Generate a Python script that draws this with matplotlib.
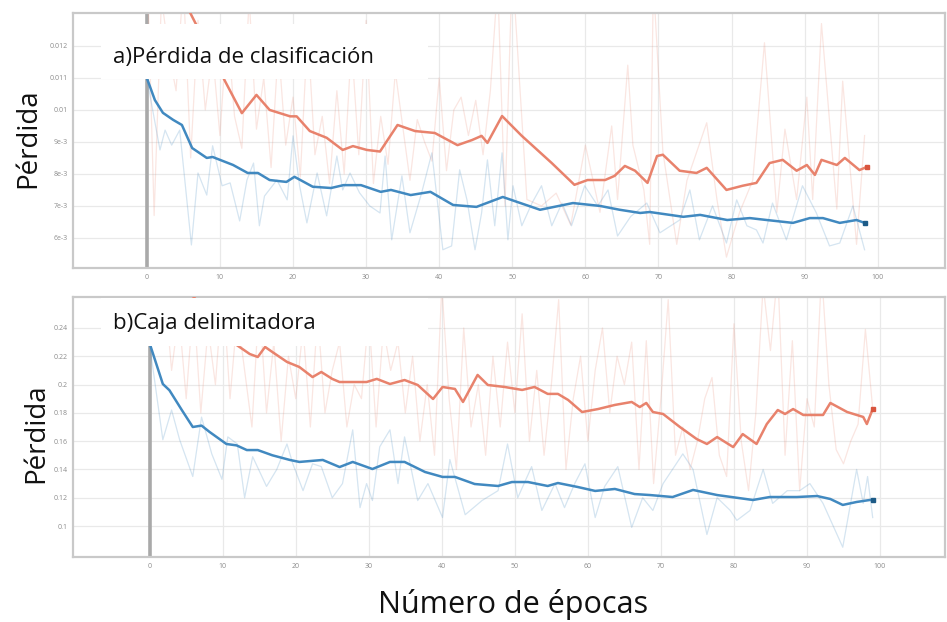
import matplotlib
matplotlib.use("Agg")
import matplotlib.pyplot as plt
from matplotlib.patches import Rectangle

plt.rcParams['font.family'] = ['Open Sans', 'DejaVu Sans']

# ---------------- data ----------------
x_ticks = [0, 10, 20, 30, 40, 50, 60, 70, 80, 90, 100]

# panel a) classification loss
cls_yticks = [0.006, 0.007, 0.008, 0.009, 0.010, 0.011, 0.012]
cls_ylabels = ["6e-3", "7e-3", "8e-3", "9e-3", "0.01", "0.011", "0.012"]

cls_train_ep = [0, 1.1, 2.2, 3.6, 4.8, 6.2, 8.2, 9, 11.8, 13.8, 15.2, 16.8, 19.1, 20.2, 22.7,
                25.2, 26.9, 29.3, 32, 33.4, 36.1, 38.8, 41.9, 45.1, 48.7, 50.6, 53.8, 58.3,
                62, 64.7, 67.5, 68.8, 73.4, 75.7, 79.4, 82.5, 84.8, 88.4, 90.7, 92.5, 94.8,
                97.1, 98.2]
cls_train = [0.0110, 0.01031, 0.00991, 0.00969, 0.00953, 0.00881, 0.0085, 0.00853, 0.00828,
             0.00803, 0.00803, 0.00781, 0.00775, 0.00791, 0.0076, 0.00756, 0.00765, 0.00765,
             0.00744, 0.0075, 0.00734, 0.00744, 0.00703, 0.00697, 0.00728, 0.00713, 0.00688,
             0.00709, 0.00700, 0.00688, 0.00678, 0.00681, 0.00666, 0.00672, 0.00656, 0.00662,
             0.00656, 0.00647, 0.00662, 0.00662, 0.00647, 0.00656, 0.00647]

cls_val_ep = [0, 3, 5.9, 10.7, 13, 15, 16.8, 19.6, 20.5, 22.3, 24.6, 26.8, 28.2, 30.1, 31.9,
              34.3, 36.7, 39.4, 42.5, 44.5, 45.8, 46.6, 48.6, 51.3, 55.4, 58.5, 60.3, 62.7,
              64, 65.4, 66.8, 68.5, 69.8, 70.6, 72.9, 75.2, 76.6, 79.3, 81.5, 83.4, 85.2,
              87, 88.9, 90.3, 91.4, 92.3, 94.4, 95.5, 97.5, 98.5]
cls_val = [0.0155, 0.0142, 0.01305, 0.0109, 0.0099, 0.01047, 0.0100, 0.0098, 0.0098, 0.00934,
           0.00913, 0.00875, 0.00887, 0.00875, 0.0087, 0.00953, 0.00934, 0.00928, 0.0089,
           0.00906, 0.00919, 0.00897, 0.00981, 0.00919, 0.00834, 0.00766, 0.00781, 0.00781,
           0.00794, 0.00825, 0.0081, 0.00772, 0.00856, 0.0086, 0.0081, 0.00803, 0.00819,
           0.0075, 0.00763, 0.00772, 0.00834, 0.00844, 0.0081, 0.00828, 0.00797, 0.00844,
           0.00828, 0.0085, 0.00812, 0.00822]

cls_train_raw_ep = [0, 1.8, 2.5, 3.4, 4.5, 6.1, 7, 8.2, 9, 10.3, 11.4, 12.7, 13.7, 14.6, 15.4,
                    16.1, 17.8, 19.2, 20, 20.9, 21.9, 23.3, 24.6, 26, 26.8, 27.8, 29.1, 30.5,
                    31.9, 32.6, 33.5, 34.9, 36, 37.6, 39, 40.5, 41.7, 42.8, 43.8, 44.9, 45.8,
                    46.6, 47.6, 48.6, 49.4, 50.1, 51.3, 52.7, 54, 55.4, 56.8, 58.1, 59.9, 61.7,
                    63.1, 64.4, 66.2, 68.4, 70.2, 72.9, 74.3, 75.6, 77.4, 79.3, 80.7, 82.1,
                    83.4, 84.3, 85.6, 87.5, 89.7, 91.6, 93.4, 94.8, 96.6, 98.2]
cls_train_raw = [0.0110, 0.00875, 0.00937, 0.0089, 0.00937, 0.00578, 0.00803, 0.00734, 0.00888,
                 0.00763, 0.00772, 0.00653, 0.00781, 0.00834, 0.00638, 0.00731, 0.00781,
                 0.00719, 0.00919, 0.00763, 0.00647, 0.00803, 0.00669, 0.00856, 0.0075,
                 0.00803, 0.00741, 0.0070, 0.00678, 0.00856, 0.00594, 0.00794, 0.00616,
                 0.00741, 0.00866, 0.00563, 0.00575, 0.00813, 0.00719, 0.00563, 0.00678,
                 0.00844, 0.00638, 0.00866, 0.00594, 0.00763, 0.00638, 0.00709, 0.00763,
                 0.00638, 0.00709, 0.00638, 0.00763, 0.0070, 0.0075, 0.00606, 0.00667,
                 0.00709, 0.00616, 0.00656, 0.0075, 0.00594, 0.0070, 0.00584, 0.00719,
                 0.00638, 0.00625, 0.00584, 0.00709, 0.00594, 0.00763, 0.00678, 0.00575,
                 0.00584, 0.0070, 0.00563]

cls_val_raw_ep = list(range(0, 51)) + [52, 54, 56, 58, 60, 62, 63.6, 64.4, 65.8, 66.5, 68,
                                       68.8, 69.3, 70.6, 72.5, 73.9, 76.6, 78, 79.3, 81.1,
                                       82.9, 84.5, 86.2, 87.3, 88.9, 90.3, 91.1, 92.3, 94.4,
                                       95.2, 97.1, 98.2]
cls_val_raw = [0.0150, 0.0067, 0.0135, 0.0118, 0.0106, 0.0140, 0.0085, 0.0128, 0.0100, 0.0118,
               0.0092, 0.0126, 0.0098, 0.0088, 0.0135, 0.0094, 0.0110, 0.0082, 0.0120, 0.0089,
               0.0104, 0.0079, 0.0125, 0.0086, 0.0098, 0.0077, 0.0106, 0.0080, 0.0121, 0.0086,
               0.0128, 0.0077, 0.0098, 0.0083, 0.0112, 0.0095, 0.0078, 0.0097, 0.0090, 0.0084,
               0.0110, 0.0081, 0.0100, 0.0104, 0.0092, 0.0103, 0.0086, 0.0106, 0.0140, 0.0070,
               0.0145,
               0.0072, 0.0070, 0.0074, 0.0064, 0.0089, 0.0068, 0.0095, 0.0072, 0.0114, 0.0089,
               0.0075, 0.0058, 0.0140, 0.0087, 0.0058, 0.0078, 0.0096, 0.0072, 0.0054, 0.0068,
               0.0078, 0.0121, 0.0068, 0.0094, 0.0072, 0.0104, 0.0072, 0.0127, 0.0069, 0.0109,
               0.0058, 0.0092]

# panel b) bounding-box loss
box_yticks = [0.10, 0.12, 0.14, 0.16, 0.18, 0.20, 0.22, 0.24]
box_ylabels = ["0.1", "0.12", "0.14", "0.16", "0.18", "0.2", "0.22", "0.24"]

box_train_ep = [0, 1.8, 2.7, 4.4, 5.9, 7.1, 8.2, 10.5, 11.9, 13.3, 14.8, 16.8, 19.2, 20.5, 23.7,
                26, 27.8, 30.5, 32.9, 34.9, 37.7, 40.1, 41.8, 44.5, 47.7, 49.6, 51.8, 54.5,
                55.9, 58.6, 61, 63.7, 66.4, 68.5, 71.6, 74.4, 77.7, 82.6, 84.9, 88.6, 91.4,
                93.2, 94.9, 96.8, 98.6, 99]
box_train = [0.229, 0.2004, 0.196, 0.182, 0.170, 0.171, 0.1665, 0.158, 0.157, 0.1537, 0.1537,
             0.150, 0.1467, 0.1453, 0.1467, 0.1417, 0.1453, 0.1403, 0.1453, 0.1453, 0.1382,
             0.1347, 0.1347, 0.1297, 0.1283, 0.1311, 0.1311, 0.1283, 0.1304, 0.1276, 0.1248,
             0.1262, 0.1226, 0.1219, 0.1205, 0.1255, 0.1219, 0.1184, 0.1205, 0.1205, 0.1212,
             0.1191, 0.1149, 0.1170, 0.1184, 0.1184]

box_val_ep = [0, 6, 11.9, 13.7, 14.8, 15.8, 16.8, 18.8, 20.5, 22.3, 23.5, 25, 26, 29.7, 31.1,
              32.9, 34.9, 36.7, 38.8, 40.1, 41.8, 42.9, 44.9, 46.3, 48.6, 51, 52.7, 54.5,
              55.9, 57.3, 59.2, 61.4, 63.7, 66, 67.1, 68, 68.9, 70.3, 72.6, 74.9, 76.3, 77.7,
              79.9, 81.2, 83.1, 84.5, 86, 87, 88.1, 89.5, 92.2, 93.2, 95.5, 97.7, 98.2, 99]
box_val = [0.29, 0.262, 0.228, 0.2216, 0.2195, 0.2266, 0.223, 0.216, 0.2124, 0.2053, 0.2089,
           0.204, 0.2018, 0.2018, 0.204, 0.2004, 0.2032, 0.1997, 0.1898, 0.1983, 0.1969,
           0.1877, 0.2068, 0.1997, 0.1983, 0.1962, 0.1983, 0.1934, 0.1934, 0.1891, 0.1806,
           0.1827, 0.1856, 0.1877, 0.1841, 0.187, 0.1806, 0.1792, 0.170, 0.1615, 0.158,
           0.1629, 0.1558, 0.165, 0.158, 0.1721, 0.182, 0.1792, 0.1827, 0.1785, 0.1785,
           0.187, 0.1806, 0.1771, 0.1721, 0.1827]

box_train_raw_ep = [0, 1.8, 3, 4.1, 5.9, 7.1, 8.5, 9.9, 10.7, 12, 13, 14.1, 16, 17.4, 18.8,
                    19.6, 21, 22.3, 23.5, 25, 26.4, 27.8, 28.8, 29.7, 30.5, 31.5, 32.9, 34,
                    34.9, 36.7, 38.1, 40.1, 41.1, 43.2, 45.5, 47.7, 49, 50.4, 52.3, 53.7, 55.5,
                    56.8, 58.2, 59.6, 61, 62.3, 64.1, 66, 67.5, 68.9, 70.3, 73, 74.4, 76.3,
                    77.7, 79.5, 80.4, 82.2, 84, 85.3, 87.3, 89, 90.4, 92.2, 94.9, 96.8, 97.7,
                    98.3, 99]
box_train_raw = [0.228, 0.161, 0.182, 0.161, 0.135, 0.177, 0.151, 0.133, 0.163, 0.158, 0.120,
                 0.149, 0.128, 0.140, 0.158, 0.144, 0.125, 0.144, 0.142, 0.120, 0.130, 0.168,
                 0.113, 0.130, 0.118, 0.156, 0.168, 0.130, 0.163, 0.118, 0.130, 0.106, 0.147,
                 0.108, 0.118, 0.125, 0.158, 0.120, 0.142, 0.111, 0.130, 0.113, 0.130, 0.144,
                 0.106, 0.128, 0.142, 0.099, 0.120, 0.111, 0.130, 0.151, 0.140, 0.094, 0.120,
                 0.111, 0.104, 0.111, 0.140, 0.116, 0.125, 0.125, 0.130, 0.116, 0.085, 0.140,
                 0.116, 0.135, 0.106]

box_val_raw_ep = list(range(0, 100))
box_val_raw = [0.30, 0.26, 0.27, 0.21, 0.25, 0.19, 0.26, 0.18, 0.24, 0.20,
               0.27, 0.19, 0.25, 0.21, 0.17, 0.26, 0.18, 0.23, 0.16, 0.22,
               0.19, 0.24, 0.17, 0.25, 0.18, 0.21, 0.23, 0.17, 0.20, 0.19,
               0.25, 0.17, 0.24, 0.21, 0.23, 0.18, 0.22, 0.16, 0.20, 0.15,
               0.27, 0.19, 0.14, 0.24, 0.17, 0.20, 0.15, 0.22, 0.17, 0.23,
               0.18, 0.25, 0.16, 0.21, 0.15, 0.20, 0.26, 0.14, 0.19, 0.22,
               0.16, 0.21, 0.24, 0.18, 0.22, 0.20, 0.23, 0.14, 0.231, 0.13,
               0.19, 0.26, 0.15, 0.17, 0.14, 0.16, 0.19, 0.205, 0.15, 0.135,
               0.243, 0.16, 0.125, 0.18, 0.27, 0.224, 0.28, 0.15, 0.231, 0.125,
               0.19, 0.17, 0.28, 0.20, 0.154, 0.144, 0.16, 0.172, 0.239, 0.183]

# ---------------- styling ----------------
BLUE = "#4189c0"
BLUE_END = "#1d5b87"
ORANGE = "#e8826c"
ORANGE_END = "#d9553e"
W, H = 947, 622

fig = plt.figure(figsize=(W / 100, H / 100), dpi=100)
fig.patch.set_facecolor("white")


def px_axes(left, top, right, bottom):
    return fig.add_axes([left / W, 1 - bottom / H, (right - left) / W, (bottom - top) / H])


def style(ax, xlim, ylim, yticks, ylabels):
    ax.set_xlim(*xlim)
    ax.set_ylim(*ylim)
    ax.set_xticks(x_ticks)
    ax.set_xticklabels([str(t) for t in x_ticks])
    ax.set_yticks(yticks)
    ax.set_yticklabels(ylabels)
    ax.tick_params(length=0, labelsize=5, colors="#8c8c8c", pad=4)
    ax.grid(True, color="#e9e9e9", lw=0.9, zorder=0)
    ax.set_axisbelow(True)
    for sp in ax.spines.values():
        sp.set_color("#c9c9c9")
        sp.set_linewidth(1.6)
    ax.axvline(0, color="#a9a9a9", lw=2.6, zorder=1)


def draw(ax, tr_ep, tr, va_ep, va, trr_ep, trr, var_ep, var):
    ax.plot(var_ep, var, color=ORANGE, lw=0.9, alpha=0.2, zorder=2)
    ax.plot(trr_ep, trr, color=BLUE, lw=0.9, alpha=0.22, zorder=2)
    ax.plot(va_ep, va, color=ORANGE, lw=1.8, zorder=3, solid_capstyle="round")
    ax.plot(tr_ep, tr, color=BLUE, lw=1.8, zorder=3, solid_capstyle="round")
    ax.plot(va_ep[-1], va[-1], "s", ms=3, color=ORANGE_END, zorder=4)
    ax.plot(tr_ep[-1], tr[-1], "s", ms=3, color=BLUE_END, zorder=4)


ax1 = px_axes(73, 13, 945, 268)
style(ax1, (-10.1, 109.2), (0.00506, 0.01303), cls_yticks, cls_ylabels)
draw(ax1, cls_train_ep, cls_train, cls_val_ep, cls_val,
     cls_train_raw_ep, cls_train_raw, cls_val_raw_ep, cls_val_raw)

ax2 = px_axes(73, 297, 945, 557)
style(ax2, (-10.5, 108.9), (0.0781, 0.2619), box_yticks, box_ylabels)
draw(ax2, box_train_ep, box_train, box_val_ep, box_val,
     box_train_raw_ep, box_train_raw, box_val_raw_ep, box_val_raw)

# panel titles on white boxes
for (x0, y0, x1, y1), label, ty in [((101, 24, 428, 79), "a)Pérdida de clasificación", 58),
                                     ((101, 298, 428, 346), "b)Caja delimitadora", 324)]:
    fig.add_artist(Rectangle((x0 / W, 1 - y1 / H), (x1 - x0) / W, (y1 - y0) / H,
                             transform=fig.transFigure, facecolor="white",
                             edgecolor="none", zorder=5))
    fig.text(113 / W, 1 - ty / H, label, fontsize=16, color="#111111",
             va="center", ha="left", zorder=6)

fig.text(28 / W, 1 - 138 / H, "Pérdida", fontsize=20, rotation=90,
         va="center", ha="center", color="#111111")
fig.text(36 / W, 1 - 433 / H, "Pérdida", fontsize=20, rotation=90,
         va="center", ha="center", color="#111111")
fig.text(513 / W, 1 - 604 / H, "Número de épocas", fontsize=22,
         va="center", ha="center", color="#111111")

fig.savefig("out.png", dpi=100, facecolor="white")
